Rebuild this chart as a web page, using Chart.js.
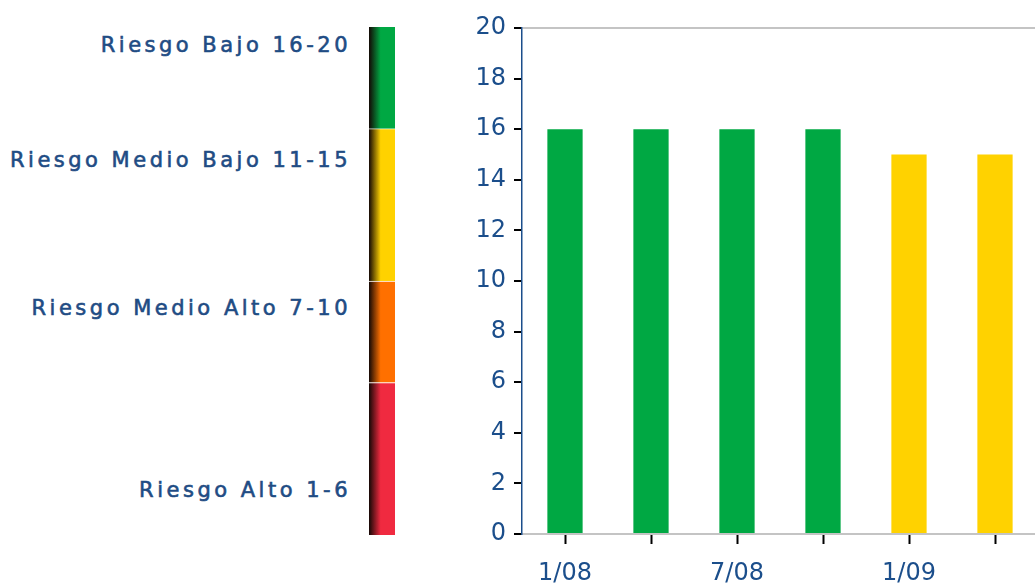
<!DOCTYPE html>
<html>
<head>
<meta charset="utf-8">
<script src="https://cdn.jsdelivr.net/npm/chart.js@4"></script>
<style>
  html, body { margin: 0; padding: 0; background: #fff; overflow: hidden; width: 1035px; height: 583px; }
  #keyWrap { position: absolute; left: 369px; top: 27px; width: 26px; height: 508px; }
  #mainWrap { position: absolute; left: 440px; top: 0; width: 600px; height: 583px; }
  .lbl { position: absolute; right: 684px; font-family: "DejaVu Sans", sans-serif;
         font-size: 21px; letter-spacing: 3.5px; color: #1f4c84; white-space: nowrap;
         -webkit-text-stroke: 0.6px #1f4c84; transform: translateY(-50%); }
</style>
</head>
<body>
<div id="keyWrap"><canvas id="keyChart"></canvas></div>
<div id="mainWrap"><canvas id="myChart"></canvas></div>
<div id="labels"></div>
<script>
// risk key, bottom to top
const riskLevels = ['Riesgo Alto 1-6', 'Riesgo Medio Alto 7-10', 'Riesgo Medio Bajo 11-15', 'Riesgo Bajo 16-20'];
const riskColors = ['#f02a40', '#ff7000', '#ffd200', '#00a843'];
const riskBands = [3, 2, 3, 2];
const riskLabelY = [45, 160, 308, 490].reverse();

// main series
const periods = ['1/08', '', '7/08', '', '1/09', ''];
const scores = [16, 16, 16, 16, 15, 15];
const yTicks = [0, 2, 4, 6, 8, 10, 12, 14, 16, 18, 20];

const blue = '#1b4e8b';

function levelColor(v) {
    if (v >= 16) return riskColors[3];
    if (v >= 11) return riskColors[2];
    if (v >= 7) return riskColors[1];
    return riskColors[0];
}

// labels next to the key
const lblBox = document.getElementById('labels');
riskLevels.forEach((t, i) => {
    const d = document.createElement('div');
    d.className = 'lbl';
    d.style.top = riskLabelY[i] + 'px';
    d.textContent = t;
    lblBox.appendChild(d);
});

new Chart(document.getElementById('keyChart'), {
    type: 'bar',
    data: {
        labels: [''],
        datasets: riskBands.map((b, i) => ({
            data: [b],
            backgroundColor: (c) => {
                const area = c.chart.chartArea;
                if (!area) return riskColors[i];
                const g = c.chart.ctx.createLinearGradient(area.left, 0, area.right, 0);
                g.addColorStop(0, '#140805');
                g.addColorStop(0.45, riskColors[i]);
                g.addColorStop(1, riskColors[i]);
                return g;
            },
            borderColor: 'rgba(255,255,255,0.75)',
            borderWidth: { top: i < riskBands.length - 1 ? 1 : 0 },
            borderSkipped: false,
            barPercentage: 1,
            categoryPercentage: 1
        }))
    },
    options: {
        responsive: true,
        maintainAspectRatio: false,
        animation: false,
        layout: { padding: 0 },
        plugins: { legend: { display: false }, tooltip: { enabled: false } },
        scales: {
            x: { stacked: true, display: false },
            y: { stacked: true, display: false, min: 0, max: 10 }
        }
    }
});

new Chart(document.getElementById('myChart'), {
    type: 'bar',
    data: {
        labels: periods,
        datasets: [{
            data: scores,
            backgroundColor: scores.map(levelColor),
            barPercentage: 0.41,
            categoryPercentage: 1
        }]
    },
    options: {
        responsive: true,
        maintainAspectRatio: false,
        animation: false,
        layout: { padding: { top: 28, right: 2, bottom: 0, left: 0 } },
        plugins: { legend: { display: false }, tooltip: { enabled: false } },
        scales: {
            x: {
                afterFit: s => { s.height = 49; },
                border: { color: '#c4c4c4', width: 2 },
                grid: { offset: false, drawOnChartArea: false, tickLength: 10, tickColor: '#000', tickWidth: 2 },
                ticks: { color: blue, padding: 15, maxRotation: 0, autoSkip: false,
                         font: { family: 'DejaVu Sans', size: 24 } }
            },
            y: {
                min: 0, max: 20,
                afterFit: s => { s.width = 82; },
                afterBuildTicks: s => { s.ticks = yTicks.map(v => ({ value: v })); },
                border: { color: blue, width: 1.5 },
                grid: {
                    color: c => (c.tick && c.tick.value === 20) ? '#c4c4c4' : 'transparent',
                    lineWidth: 2,
                    tickLength: 8, tickColor: '#000', tickWidth: 2
                },
                ticks: { color: blue, padding: 8, font: { family: 'DejaVu Sans', size: 24 } }
            }
        }
    }
});
</script>
</body>
</html>
